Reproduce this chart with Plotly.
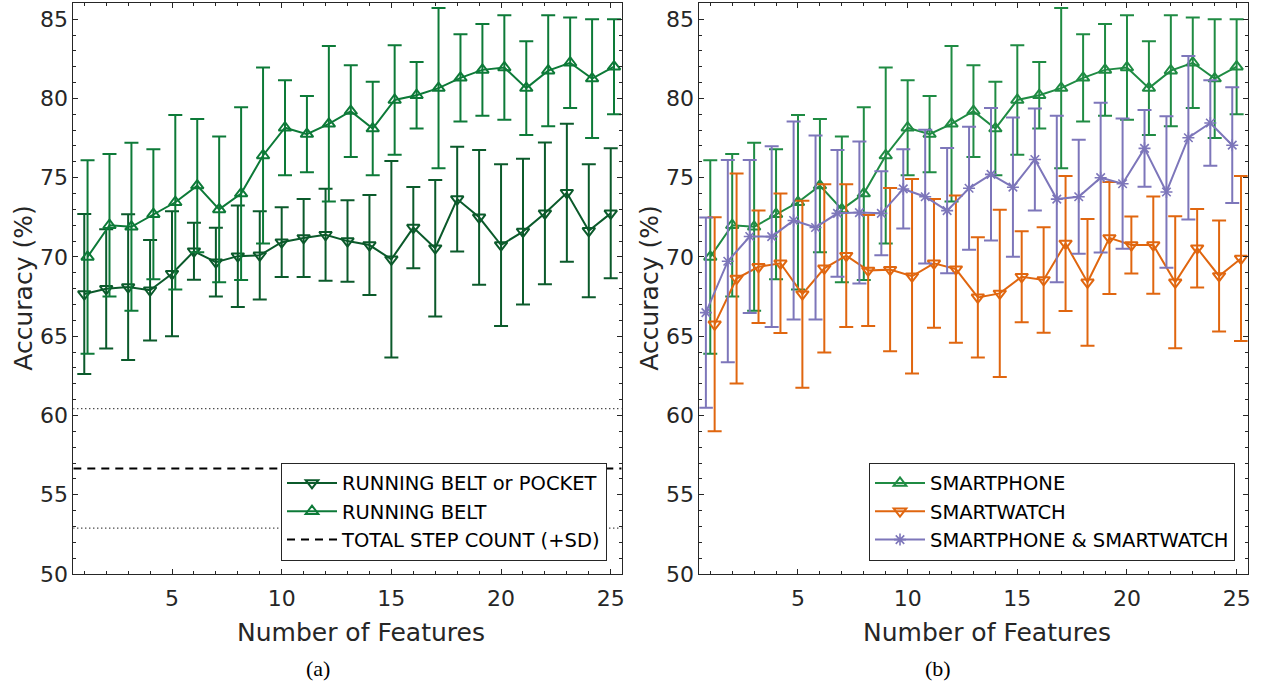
import plotly.graph_objects as go

# ---------------- data ----------------
features = list(range(1, 26))

pocket_mean = [67.66, 67.99, 68.1, 67.9, 68.94, 70.36, 69.67, 70.05, 70.1, 70.93, 71.2, 71.4, 71.0,
               70.75, 69.85, 71.85, 70.55, 73.65, 72.5, 70.75, 71.6, 72.75, 74.05, 71.65, 72.75]
pocket_sd = [5.05, 3.76, 4.6, 3.17, 3.95, 1.8, 2.17, 3.2, 2.78, 2.2, 2.46, 2.9, 2.57,
             3.15, 6.2, 2.57, 4.3, 3.3, 4.25, 5.1, 4.6, 4.47, 4.35, 4.2, 4.1]

belt_mean = [70.0, 72.0, 71.9, 72.7, 73.45, 74.5, 73.0, 74.0, 76.4, 78.15, 77.75, 78.4, 79.2,
             78.1, 79.9, 80.2, 80.65, 81.3, 81.8, 81.95, 80.65, 81.75, 82.25, 81.25, 82.0]
belt_sd = [6.1, 4.5, 5.3, 4.1, 5.5, 4.2, 4.6, 5.45, 5.55, 3.0, 2.4, 4.9, 2.9,
           2.95, 3.45, 2.1, 5.05, 2.75, 2.9, 3.3, 2.95, 3.5, 2.85, 3.75, 3.0]

step_count_mean = 56.66
step_count_sd = 3.77

phone_mean = [70.0, 72.0, 71.9, 72.7, 73.45, 74.5, 73.0, 74.0, 76.4, 78.15, 77.75, 78.4, 79.2,
              78.1, 79.9, 80.2, 80.65, 81.3, 81.8, 81.95, 80.65, 81.75, 82.25, 81.25, 82.0]
phone_sd = [6.1, 4.5, 5.3, 4.1, 5.5, 4.2, 4.6, 5.45, 5.55, 3.0, 2.4, 4.9, 2.9,
            2.95, 3.45, 2.1, 5.05, 2.75, 2.9, 3.3, 2.95, 3.5, 2.85, 3.75, 3.0]

watch_mean = [65.75, 68.64, 69.38, 69.6, 67.65, 69.28, 70.08, 69.15, 69.2, 68.78, 69.6, 69.23, 67.45,
              67.7, 68.75, 68.55, 70.85, 68.4, 71.2, 70.75, 70.75, 68.4, 70.55, 68.8, 69.9]
watch_sd = [6.75, 6.63, 3.55, 4.4, 5.9, 5.3, 4.5, 3.5, 5.15, 6.14, 4.06, 4.64, 3.8,
            5.28, 2.87, 3.33, 4.26, 4.0, 3.53, 1.8, 3.07, 4.16, 2.47, 3.5, 5.2]

combo_mean = [66.49, 69.73, 71.29, 71.28, 72.3, 71.86, 72.75, 72.8, 72.75, 74.29, 73.8, 72.92, 74.33,
              75.21, 74.4, 76.15, 73.65, 73.8, 75.0, 74.62, 76.85, 74.1, 77.52, 78.45, 77.05]
combo_sd = [6.0, 6.38, 4.83, 5.7, 6.25, 5.8, 4.0, 4.48, 2.65, 2.5, 4.22, 3.95, 3.88,
            4.18, 4.39, 3.22, 5.25, 3.6, 4.72, 4.11, 2.42, 4.78, 5.16, 2.7, 3.65]

labels_left = ["RUNNING BELT or POCKET", "RUNNING BELT", "TOTAL STEP COUNT (+SD)"]
labels_right = ["SMARTPHONE", "SMARTWATCH", "SMARTPHONE & SMARTWATCH"]
x_title = "Number of Features"
y_title = "Accuracy (%)"
captions = ["(a)", "(b)"]

# ---------------- style ----------------
W, H = 1269, 683


def fx(px):
    return px / W


def fy(py):
    return 1 - py / H


x_range = [0.5, 25.5]
y_range = [50, 86]
belt_shift = 0.15
watch_shift = 0.2
combo_shift = -0.2

c_pocket = "#0b5a2b"
c_belt = "#0d7a38"
c_phone = "#1f8b43"
c_watch = "#e0660f"
c_combo = "#7d76ba"
axis_col = "#262626"
FONT = "DejaVu Sans"

fig = go.Figure()


def err_trace(x, y, sd, color, symbol, name, xa, ya, legend, msize=11, mline=2):
    return go.Scatter(
        x=x, y=y, mode="lines+markers", name=name,
        xaxis=xa, yaxis=ya, legend=legend,
        line=dict(color=color, width=2),
        marker=dict(symbol=symbol, size=msize, color=color,
                    line=dict(color=color, width=mline)),
        error_y=dict(type="data", array=sd, visible=True, color=color,
                     thickness=2, width=7),
    )


# left panel
fig.add_trace(err_trace(features, pocket_mean, pocket_sd, c_pocket, "triangle-down-open",
                        labels_left[0], "x", "y", "legend"))
fig.add_trace(err_trace([f + belt_shift for f in features], belt_mean, belt_sd, c_belt,
                        "triangle-up-open", labels_left[1], "x", "y", "legend"))
fig.add_trace(go.Scatter(x=x_range, y=[step_count_mean] * 2, mode="lines", name=labels_left[2],
                         xaxis="x", yaxis="y", legend="legend",
                         line=dict(color="black", width=2, dash="8px,6px")))
for s in (+1, -1):
    fig.add_trace(go.Scatter(x=x_range, y=[step_count_mean + s * step_count_sd] * 2, mode="lines",
                             xaxis="x", yaxis="y", showlegend=False, hoverinfo="skip",
                             line=dict(color="black", width=1.3, dash="1px,3px")))

# right panel
fig.add_trace(err_trace(features, phone_mean, phone_sd, c_phone, "triangle-up-open",
                        labels_right[0], "x2", "y2", "legend2"))
fig.add_trace(err_trace([f + watch_shift for f in features], watch_mean, watch_sd, c_watch,
                        "triangle-down-open", labels_right[1], "x2", "y2", "legend2"))
fig.add_trace(err_trace([f + combo_shift for f in features], combo_mean, combo_sd, c_combo,
                        "asterisk-open", labels_right[2], "x2", "y2", "legend2", msize=10, mline=1.6))

ydom = [fy(574), fy(3.3)]
x1dom = [fx(73.3), fx(621.7)]
x2dom = [fx(699.3), fx(1247.6)]

axis_common = dict(
    showline=True, linecolor=axis_col, linewidth=1, mirror="ticks",
    ticks="inside", ticklen=5, tickwidth=1, tickcolor=axis_col,
    showgrid=False, zeroline=False, automargin=False,
    tickfont=dict(family=FONT, size=22, color=axis_col),
    minor=dict(ticks="inside", ticklen=3, tickcolor=axis_col, dtick=1, showgrid=False),
)

legend_common = dict(
    y=fy(560.7), xanchor="right", yanchor="bottom",
    bgcolor="white", bordercolor=axis_col, borderwidth=1,
    font=dict(family=FONT, size=19.5, color="black"), itemwidth=50, tracegroupgap=0,
)

fig.update_layout(
    width=W, height=H,
    margin=dict(l=0, r=0, t=0, b=0, autoexpand=False),
    paper_bgcolor="white", plot_bgcolor="white",
    showlegend=True,
    xaxis=dict(domain=x1dom, range=x_range, tick0=0, dtick=5, anchor="y",
               ticklabelstandoff=5, **axis_common),
    yaxis=dict(domain=ydom, range=y_range, tick0=0, dtick=5, anchor="x", **axis_common),
    xaxis2=dict(domain=x2dom, range=x_range, tick0=0, dtick=5, anchor="y2",
                ticklabelstandoff=5, **axis_common),
    yaxis2=dict(domain=ydom, range=y_range, tick0=0, dtick=5, anchor="x2", **axis_common),
    legend=dict(x=fx(607), **legend_common),
    legend2=dict(x=fx(1235), **legend_common),
)

annos = []
for xc_title, xc_y in ((361, 24), (987, 650)):
    annos.append(dict(text=x_title, x=fx(xc_title), y=fy(632), xref="paper", yref="paper",
                      xanchor="center", yanchor="middle", showarrow=False,
                      font=dict(family=FONT, size=25, color=axis_col)))
    annos.append(dict(text=y_title, x=fx(xc_y), y=fy(288.7), xref="paper", yref="paper",
                      xanchor="center", yanchor="middle", showarrow=False, textangle=-90,
                      font=dict(family=FONT, size=25, color=axis_col)))
for cap, xc in zip(captions, (318, 938)):
    annos.append(dict(text=cap, x=fx(xc), y=fy(668), xref="paper", yref="paper",
                      xanchor="center", yanchor="middle", showarrow=False,
                      font=dict(family="Liberation Serif", size=22, color="black")))
fig.update_layout(annotations=annos)

# remove the default 8px page margin so the figure sits at the window's corner
fig.write_html("out.html", config={"displayModeBar": False},
               post_script="document.body.style.margin='0';document.body.style.overflow='hidden';")
